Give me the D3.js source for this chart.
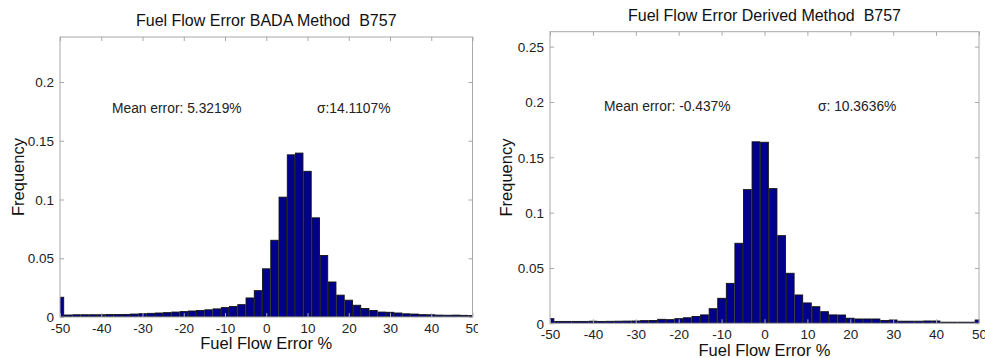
<!DOCTYPE html>
<html>
<head>
<meta charset="utf-8">
<script src="https://cdn.jsdelivr.net/npm/d3@7"></script>
<style>
  html, body { margin: 0; padding: 0; background: #fff; }
  svg { display: block; font-family: Arial, "Liberation Sans", sans-serif; }
  text { white-space: pre; }
</style>
</head>
<body>
<svg id="chart" width="985" height="358"></svg>
<script>
// ---- data ----
const binCenters = [-50,-48,-46,-44,-42,-40,-38,-36,-34,-32,-30,-28,-26,-24,-22,-20,-18,-16,-14,-12,-10,-8,-6,-4,-2,0,2,4,6,8,10,12,14,16,18,20,22,24,26,28,30,32,34,36,38,40,42,44,46,48,50];

const badaFreq = [0.0168,0.0017,0.0019,0.0019,0.0019,0.0019,0.0021,0.0021,0.0022,0.0025,0.0028,0.0031,0.0034,0.0037,0.0042,0.0046,0.0051,0.0055,0.0061,0.0069,0.0080,0.0090,0.0105,0.0162,0.0224,0.0410,0.0653,0.1020,0.1380,0.1395,0.1240,0.0844,0.0523,0.0298,0.0186,0.0143,0.0100,0.0072,0.0055,0.0042,0.0040,0.0034,0.0027,0.0025,0.0020,0.0019,0.0016,0.0015,0.0016,0.0014,0.0012];

const derivedFreq = [0.0042,0.0017,0.0017,0.0017,0.0017,0.0019,0.0017,0.0018,0.0019,0.0020,0.0021,0.0024,0.0025,0.0036,0.0033,0.0042,0.0050,0.0062,0.0076,0.0132,0.0226,0.0361,0.0723,0.1208,0.1640,0.1636,0.1217,0.0792,0.0452,0.0256,0.0184,0.0150,0.0105,0.0076,0.0075,0.0046,0.0039,0.0039,0.0039,0.0025,0.0030,0.0019,0.0019,0.0019,0.0021,0.0021,0.0010,0.0010,0.0010,0.0010,0.0030];

const xTicks = [-50,-40,-30,-20,-10,0,10,20,30,40,50];
const yTicksBada = [0,0.05,0.1,0.15,0.2];
const yTicksDerived = [0,0.05,0.1,0.15,0.2,0.25];

const titles = ["Fuel Flow Error BADA Method  B757", "Fuel Flow Error Derived Method  B757"];
const meanTexts = ["Mean error: 5.3219%", "Mean error: -0.437%"];
const sigmaTexts = ["\u03c3:14.1107%", "\u03c3: 10.3636%"];
const xLabel = "Fuel Flow Error %";
const yLabel = "Frequency";

// ---- drawing ----
const svg = d3.select("#chart");
const defs = svg.append("defs");

function plainFmt(v) { return String(v); }

function panel(opt) {
  const g = svg.append("g");
  const x = d3.scaleLinear().domain([-50, 50]).range([opt.left, opt.right]);
  const y = d3.scaleLinear().domain([0, opt.yMax]).range([opt.bottom, opt.top]);

  const clipId = "clip" + opt.id;
  defs.append("clipPath").attr("id", clipId).append("rect")
    .attr("x", opt.left).attr("y", opt.top)
    .attr("width", opt.right - opt.left).attr("height", opt.bottom - opt.top);

  // bars
  const binW = x(2) - x(0);
  const bw = binW * 0.9;
  g.append("g").attr("clip-path", `url(#${clipId})`)
    .selectAll("rect").data(opt.values).join("rect")
    .attr("x", (d, i) => x(binCenters[i]) - bw / 2)
    .attr("width", bw)
    .attr("y", d => y(d))
    .attr("height", d => opt.bottom - y(d))
    .attr("fill", "#00008c")
    .attr("stroke", "#111")
    .attr("stroke-width", 0.9);

  // box
  g.append("rect")
    .attr("x", opt.left).attr("y", opt.top)
    .attr("width", opt.right - opt.left).attr("height", opt.bottom - opt.top)
    .attr("fill", "none").attr("stroke", "#a8a8a8").attr("stroke-width", 1);

  const tl = 4;
  const xAxisB = d3.axisBottom(x).tickValues(xTicks).tickSizeInner(-tl).tickSizeOuter(0).tickPadding(8).tickFormat(plainFmt);
  const gxb = g.append("g").attr("transform", `translate(0,${opt.bottom})`).call(xAxisB);
  const xAxisT = d3.axisTop(x).tickValues(xTicks).tickSizeInner(-tl).tickSizeOuter(0).tickFormat("");
  const gxt = g.append("g").attr("transform", `translate(0,${opt.top})`).call(xAxisT);
  const yAxisL = d3.axisLeft(y).tickValues(opt.yTicks).tickSizeInner(-tl).tickSizeOuter(0).tickPadding(6).tickFormat(plainFmt);
  const gyl = g.append("g").attr("transform", `translate(${opt.left},0)`).call(yAxisL);
  const yAxisR = d3.axisRight(y).tickValues(opt.yTicks).tickSizeInner(-tl).tickSizeOuter(0).tickFormat("");
  const gyr = g.append("g").attr("transform", `translate(${opt.right},0)`).call(yAxisR);

  [gxb, gxt, gyl, gyr].forEach(a => {
    a.select(".domain").remove();
    a.selectAll(".tick line").attr("stroke", "#a8a8a8");
    a.selectAll(".tick text").attr("fill", "#222").style("font-size", "13.5px")
      .style("font-family", "Arial, 'Liberation Sans', sans-serif");
  });
  // clip bottom tick labels where the reference image is cropped at the right
  gxb.selectAll(".tick").each(function (d) {
    const tx = x(d);
    const id = "tclip" + opt.id + "_" + String(d).replace("-", "m");
    defs.append("clipPath").attr("id", id).append("rect")
      .attr("x", -400).attr("y", -400).attr("width", 400 + (opt.textClipRight - tx)).attr("height", 800);
    d3.select(this).select("text").attr("clip-path", `url(#${id})`);
  });
  gxb.selectAll(".tick text").attr("dy", null)
    .attr("y", opt.tickBaseline - opt.bottom);
  gyl.selectAll(".tick text").attr("dy", "0.35em");

  // title
  g.append("text").attr("x", (opt.left + opt.right) / 2).attr("y", opt.titleY)
    .attr("text-anchor", "middle").attr("fill", "#111").style("font-size", "16px")
    .text(opt.title);

  // annotations
  g.append("text").attr("x", opt.meanX).attr("y", opt.annY)
    .attr("fill", "#222").style("font-size", "13.8px").text(opt.mean);
  g.append("text").attr("x", opt.sigmaX).attr("y", opt.annY)
    .attr("fill", "#222").style("font-size", "13.8px").text(opt.sigma);

  // axis labels
  g.append("text").attr("x", (opt.left + opt.right) / 2).attr("y", opt.xLabelY)
    .attr("text-anchor", "middle").attr("fill", "#111").style("font-size", "16.5px")
    .text(xLabel);
  g.append("text")
    .attr("transform", `translate(${opt.yLabelX},${(opt.top + opt.bottom) / 2}) rotate(-90)`)
    .attr("text-anchor", "middle").attr("fill", "#111").style("font-size", "16.5px")
    .text(yLabel);
}

panel({
  id: "a", left: 60, right: 472.5, top: 37, bottom: 317, yMax: 0.2383,
  values: badaFreq, yTicks: yTicksBada, title: titles[0],
  mean: meanTexts[0], sigma: sigmaTexts[0],
  titleY: 25.5, annY: 112.5, meanX: 112, sigmaX: 317,
  xLabelY: 349, yLabelX: 23.5, tickBaseline: 332.5, textClipRight: 477.5
});

panel({
  id: "b", left: 550, right: 979, top: 31.7, bottom: 323.3, yMax: 0.2635,
  values: derivedFreq, yTicks: yTicksDerived, title: titles[1],
  mean: meanTexts[1], sigma: sigmaTexts[1],
  titleY: 20.5, annY: 110.5, meanX: 604, sigmaX: 818,
  xLabelY: 355.5, yLabelX: 512, tickBaseline: 339, textClipRight: 985
});
</script>
</body>
</html>
